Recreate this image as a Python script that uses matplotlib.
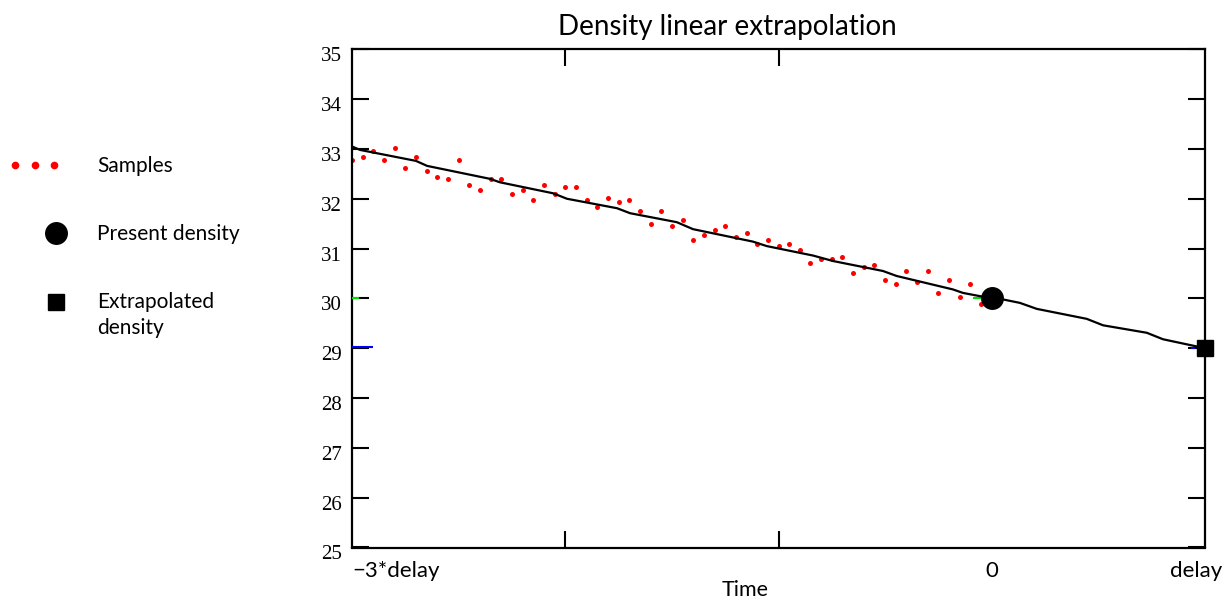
"""Density linear extrapolation chart (Mathcad style)."""

import matplotlib

matplotlib.use("Agg")
import matplotlib.pyplot as plt
import numpy as np
from matplotlib.lines import Line2D
from matplotlib.transforms import ScaledTranslation

# Sample times, in units of delay, and measured densities
sample_t = np.arange(61) * 0.05 - 3.0
sample_density = [
    32.78, 32.83, 32.96, 32.78, 33.01, 32.62, 32.83, 32.56, 32.44, 32.40,
    32.78, 32.27, 32.18, 32.40, 32.40, 32.09, 32.18, 31.97, 32.27, 32.09,
    32.23, 32.23, 31.97, 31.83, 32.01, 31.93, 31.97, 31.75, 31.49, 31.75,
    31.45, 31.58, 31.18, 31.28, 31.37, 31.45, 31.24, 31.32, 31.10, 31.18,
    31.06, 31.10, 30.97, 30.72, 30.80, 30.80, 30.84, 30.50, 30.63, 30.68,
    30.37, 30.28, 30.54, 30.33, 30.54, 30.11, 30.37, 30.02, 30.28, 29.89,
    30.17,
]

# Fitted / extrapolated trace
fit_t = [
    -3.0, -2.962, -2.700, -2.648, -2.353, -2.306, -2.057, -1.992, -1.757,
    -1.696, -1.477, -1.401, -1.120, -1.055, -0.838, -0.744, -0.510, -0.446,
    -0.182, -0.135, 0.0, 0.052, 0.132, 0.211, 0.445, 0.522, 0.727, 0.803, 1.0,
]
fit_density = [
    33.05, 32.98, 32.76, 32.66, 32.40, 32.33, 32.11, 32.00, 31.81,
    31.71, 31.53, 31.39, 31.14, 31.05, 30.86, 30.75, 30.55, 30.45,
    30.18, 30.11, 30.00, 29.98, 29.91, 29.79, 29.59, 29.46, 29.31, 29.18, 29.00,
]

present_t, present_density = 0.0, 30.0
extrap_t, extrap_density = 1.0, 29.0

# small Mathcad marker traces
green_segments = [([-3.0, -2.967], [30.0, 30.0]), ([-0.09, -0.05], [30.0, 30.0])]
blue_segments = [([-3.0, -2.9], [29.03, 29.03]), ([0.935, 0.955], [29.01, 29.01])]

x_tick_pos = [-3, 0, 1]
x_tick_labels = ["\u22123*delay", "0", "delay"]
x_minor_pos = [-2, -1, 0]
y_ticks = list(range(25, 36))

SANS = ["Lato", "DejaVu Sans"]
SERIF = ["Liberation Serif", "DejaVu Serif"]

W, H = 1230, 600
fig = plt.figure(figsize=(W / 100, H / 100), dpi=100)
ax = fig.add_axes([352 / W, 1 - 547.5 / H, 853 / W, 498.2 / H])

for xs, ys in green_segments:
    ax.plot(xs, ys, color="#00dd00", lw=1.5, solid_capstyle="butt", zorder=3, clip_on=False)
for xs, ys in blue_segments:
    ax.plot(xs, ys, color="#0000ff", lw=1.5, solid_capstyle="butt", zorder=3, clip_on=False)

ax.plot(sample_t, sample_density, "o", color="red", ms=3.6, mew=0, zorder=2)
ax.plot(fit_t, fit_density, color="black", lw=1.6, zorder=4)
ax.plot(present_t, present_density, "o", color="black", ms=15.5, zorder=5, clip_on=False)
ax.plot(extrap_t, extrap_density, "s", color="black", ms=11, zorder=5, clip_on=False)

ax.set_xlim(-3, 1)
ax.set_ylim(25, 35)
for side in ax.spines.values():
    side.set_linewidth(1.6)

ax.set_yticks(y_ticks)
ax.set_yticklabels([str(v) for v in y_ticks], family=SERIF, fontsize=15)
ax.tick_params(axis="y", direction="in", length=12.5, width=1.5, left=True, right=True, pad=7)

ax.set_xticks(x_tick_pos)
ax.set_xticklabels(x_tick_labels, family=SANS, fontsize=16)
ax.set_xticks(x_minor_pos, minor=True)
ax.tick_params(axis="x", which="major", length=0, pad=10)
ax.tick_params(axis="x", which="minor", direction="in", length=12.5, width=1.5,
               top=True, bottom=True)

# nudge tick labels like the original
for lab in ax.get_yticklabels():
    lab.set_transform(lab.get_transform() + ScaledTranslation(0, -0.05, fig.dpi_scale_trans))
xlabs = ax.get_xticklabels()
xlabs[0].set_horizontalalignment("left")
xlabs[0].set_transform(xlabs[0].get_transform() + ScaledTranslation(0.0, 0, fig.dpi_scale_trans))
xlabs[2].set_transform(xlabs[2].get_transform() + ScaledTranslation(-0.09, 0, fig.dpi_scale_trans))

fig.text(727 / W, 1 - 27 / H, "Density linear extrapolation", family=SANS, fontsize=20,
         ha="center", va="center")
fig.text(745 / W, 1 - 590 / H, "Time", family=SANS, fontsize=15.5, ha="center", va="center")

# legend on the left
for px in (15, 35, 54):
    fig.add_artist(Line2D([px / W], [1 - 165 / H], marker="o", color="red", ms=5.5, mew=0))
fig.add_artist(Line2D([56 / W], [1 - 233 / H], marker="o", color="black", ms=15.5))
fig.add_artist(Line2D([55.5 / W], [1 - 302 / H], marker="s", color="black", ms=11))
fig.text(97 / W, 1 - 166 / H, "Samples", family=SANS, fontsize=15, va="center")
fig.text(97 / W, 1 - 234 / H, "Present density", family=SANS, fontsize=15, va="center")
fig.text(97 / W, 1 - 315 / H, "Extrapolated\ndensity", family=SANS, fontsize=15,
         va="center", linespacing=1.4)

fig.savefig("out.png", dpi=100)
